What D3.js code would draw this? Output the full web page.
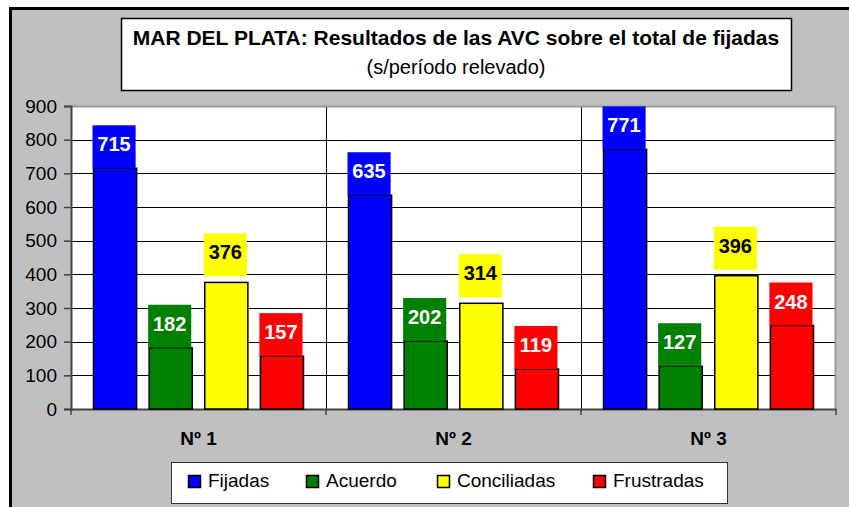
<!DOCTYPE html>
<html>
<head>
<meta charset="utf-8">
<script src="https://cdn.jsdelivr.net/npm/d3@7"></script>
<style>
    body { margin: 0; background: #fff; }
    svg { display: block; font-family: "Liberation Sans", Arial, sans-serif; }
</style>
</head>
<body>
<svg id="chart" width="849" height="507"></svg>
<script>
var categories = ['Nº 1', 'Nº 2', 'Nº 3'];
var seriesNames = ['Fijadas', 'Acuerdo', 'Conciliadas', 'Frustradas'];
var fijadas = [715, 635, 771];
var acuerdo = [182, 202, 127];
var conciliadas = [376, 314, 396];
var frustradas = [157, 119, 248];
var yTicks = [0, 100, 200, 300, 400, 500, 600, 700, 800, 900];

var titleText = 'MAR DEL PLATA: Resultados de las AVC sobre el total de fijadas';
var subtitleText = '(s/período relevado)';

var seriesValues = [fijadas, acuerdo, conciliadas, frustradas];
var fills = ['#0000ff', '#008000', '#ffff00', '#ff0000'];
var labelColors = ['#fff', '#fff', '#000', '#fff'];
// the yellow labels sit a bit higher above their bars
var labelGap = [0, 0, 6, 0];

var plot = {left: 71, right: 836, top: 106, bottom: 409};
var labelBoxHeight = 43;

var svg = d3.select('#chart');

// outer frame: grey area with black top/left edge
svg.append('rect')
    .attr('x', 9).attr('y', 7)
    .attr('width', 849 - 9).attr('height', 507 - 7)
    .attr('fill', '#c0c0c0');
svg.append('rect').attr('x', 9).attr('y', 7).attr('width', 840).attr('height', 3).attr('fill', '#000');
svg.append('rect').attr('x', 9).attr('y', 7).attr('width', 3).attr('height', 500).attr('fill', '#000');

// title box
svg.append('rect')
    .attr('x', 121.5).attr('y', 18.5)
    .attr('width', 670).attr('height', 72)
    .attr('fill', '#fff').attr('stroke', '#000').attr('stroke-width', 1.5);
svg.append('text')
    .attr('x', 456).attr('y', 45)
    .attr('text-anchor', 'middle')
    .attr('font-size', 21).attr('font-weight', 'bold')
    .text(titleText);
svg.append('text')
    .attr('x', 456).attr('y', 74)
    .attr('text-anchor', 'middle')
    .attr('font-size', 20)
    .text(subtitleText);

var x0 = d3.scaleBand().domain(categories).range([plot.left, plot.right]).padding(0);
var x1 = d3.scaleBand().domain(seriesNames)
    .range([22.5, x0.bandwidth() - 22.5])
    .paddingInner(0.225);
var y = d3.scaleLinear().domain([0, 900]).range([plot.bottom, plot.top]);

// plot background
svg.append('rect')
    .attr('x', plot.left).attr('y', plot.top)
    .attr('width', plot.right - plot.left).attr('height', plot.bottom - plot.top)
    .attr('fill', '#fff');

// gridlines
svg.append('g')
    .selectAll('line')
    .data(yTicks.slice(1, -1))
    .enter().append('line')
        .attr('x1', plot.left).attr('x2', plot.right)
        .attr('y1', function(d) { return Math.round(y(d)) + 0.5; })
        .attr('y2', function(d) { return Math.round(y(d)) + 0.5; })
        .attr('stroke', '#000').attr('stroke-width', 1);

// group separators
svg.append('g')
    .selectAll('line')
    .data(categories.slice(1))
    .enter().append('line')
        .attr('x1', function(d) { return Math.round(x0(d)) + 0.5; })
        .attr('x2', function(d) { return Math.round(x0(d)) + 0.5; })
        .attr('y1', plot.top).attr('y2', plot.bottom)
        .attr('stroke', '#000');

// plot border top / right
svg.append('path')
    .attr('d', 'M' + plot.left + ',' + (plot.top + 0.5) + 'H' + (plot.right - 0.5) + 'V' + plot.bottom)
    .attr('fill', 'none').attr('stroke', '#999').attr('stroke-width', 2);

// y axis
var yAxis = d3.axisLeft(y).tickValues(yTicks).tickSize(7).tickPadding(7);
var yG = svg.append('g')
    .attr('transform', 'translate(' + plot.left + ',0)')
    .call(yAxis);
yG.select('.domain').attr('stroke', '#444').attr('stroke-width', 2);
yG.selectAll('.tick line').attr('stroke', '#444').attr('stroke-width', 1.5);
yG.selectAll('.tick text')
    .attr('font-size', 19).attr('font-family', '"Liberation Sans", Arial, sans-serif')
    .attr('fill', '#000');

// x axis
var xAxis = d3.axisBottom(x0).tickSize(0).tickPadding(0).tickFormat('');
var xG = svg.append('g')
    .attr('transform', 'translate(0,' + plot.bottom + ')')
    .call(xAxis);
xG.select('.domain').attr('stroke', '#444').attr('stroke-width', 2);
xG.selectAll('.tick').remove();
xG.selectAll('.cat-tick')
    .data(categories.concat(['end']))
    .enter().append('line')
        .attr('x1', function(d, i) { return i < categories.length ? x0(d) : plot.right; })
        .attr('x2', function(d, i) { return i < categories.length ? x0(d) : plot.right; })
        .attr('y1', 0).attr('y2', 6)
        .attr('stroke', '#444').attr('stroke-width', 1.5);
xG.selectAll('.cat-label')
    .data(categories)
    .enter().append('text')
        .attr('x', function(d) { return x0(d) + x0.bandwidth() / 2; })
        .attr('y', 36)
        .attr('text-anchor', 'middle')
        .attr('font-size', 19).attr('font-weight', 'bold')
        .attr('font-family', '"Liberation Sans", Arial, sans-serif')
        .attr('fill', '#000')
        .text(function(d) { return d; });

// bars
var groups = svg.append('g')
    .selectAll('g')
    .data(categories)
    .enter().append('g')
        .attr('transform', function(d) { return 'translate(' + x0(d) + ',0)'; });

var cells = groups.selectAll('g')
    .data(function(d, ci) {
        return seriesNames.map(function(s, si) {
            return {series: s, si: si, value: seriesValues[si][ci]};
        });
    })
    .enter().append('g');

cells.append('rect')
    .attr('x', function(d) { return x1(d.series); })
    .attr('y', function(d) { return y(d.value); })
    .attr('width', x1.bandwidth())
    .attr('height', function(d) { return y(0) - y(d.value); })
    .attr('fill', function(d) { return fills[d.si]; })
    .attr('stroke', '#000').attr('stroke-width', 1.5);

// value labels in boxes of the bar colour
cells.append('rect')
    .attr('x', function(d) { return x1(d.series) - 1; })
    .attr('y', function(d) { return y(d.value) - labelGap[d.si] - labelBoxHeight; })
    .attr('width', x1.bandwidth())
    .attr('height', labelBoxHeight)
    .attr('fill', function(d) { return fills[d.si]; });

cells.append('text')
    .attr('x', function(d) { return x1(d.series) - 1 + x1.bandwidth() / 2; })
    .attr('y', function(d) { return y(d.value) - labelGap[d.si] - 17; })
    .attr('text-anchor', 'middle')
    .attr('font-size', 20).attr('font-weight', 'bold')
    .attr('fill', function(d) { return labelColors[d.si]; })
    .text(function(d) { return d.value; });

// legend
var legend = svg.append('g').attr('transform', 'translate(171,462)');
legend.append('rect')
    .attr('x', 0.5).attr('y', 0.5)
    .attr('width', 556).attr('height', 41)
    .attr('fill', '#fff').attr('stroke', '#333');

var legendX = [17, 135, 266, 422];
var items = legend.selectAll('.item')
    .data(seriesNames)
    .enter().append('g')
        .attr('transform', function(d, i) { return 'translate(' + legendX[i] + ',0)'; });
items.append('rect')
    .attr('x', 0.5).attr('y', 13.5)
    .attr('width', 12).attr('height', 12)
    .attr('fill', function(d, i) { return fills[i]; })
    .attr('stroke', '#000').attr('stroke-width', 1.5);
items.append('text')
    .attr('x', 20).attr('y', 25)
    .attr('font-size', 19)
    .text(function(d) { return d; });
</script>
</body>
</html>
